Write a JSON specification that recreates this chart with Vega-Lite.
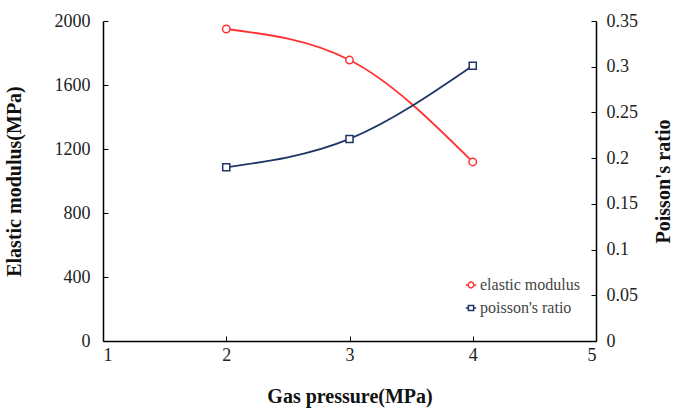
{
  "$schema": "https://vega.github.io/schema/vega-lite/v6.json",
  "width": 493,
  "height": 320,
  "autosize": {"type": "none"},
  "padding": {"left": 103, "top": 21, "right": 84, "bottom": 67},
  "background": "white",
  "config": {
    "view": {"stroke": null},
    "font": "Liberation Serif",
    "legend": {"labelFont": "Liberation Serif, Times New Roman, serif", "labelFontSize": 16, "labelColor": "#444"},
    "axis": {
      "grid": false,
      "domainColor": "#000",
      "domainWidth": 1.5,
      "tickColor": "#000",
      "tickSize": -5,
      "labelFont": "Liberation Serif",
      "labelFontSize": 18,
      "labelColor": "#222",
      "titleFont": "Liberation Serif, Times New Roman, serif",
      "titleFontSize": 20,
      "titleFontWeight": "bold",
      "titleColor": "#111"
    }
  },
  "datasets": {
    "em": [
      {"pressure": 2, "series": "elastic modulus", "value": 1950},
      {"pressure": 3, "series": "elastic modulus", "value": 1756},
      {"pressure": 4, "series": "elastic modulus", "value": 1119}
    ],
    "pr": [
      {"pressure": 2, "series": "poisson's ratio", "value": 0.19},
      {"pressure": 3, "series": "poisson's ratio", "value": 0.221},
      {"pressure": 4, "series": "poisson's ratio", "value": 0.301}
    ]
  },
  "layer": [
    {
      "data": {"name": "em"},
      "mark": {"type": "line", "interpolate": "monotone", "strokeWidth": 1.8, "point": {"filled": false, "fill": "white", "shape": "circle", "size": 55, "strokeWidth": 1.5}},
      "encoding": {
        "x": {"field": "pressure", "type": "quantitative", "scale": {"domain": [1, 5]}, "axis": {"title": "Gas pressure(MPa)", "format": "d", "values": [1, 2, 3, 4, 5], "labelPadding": 10, "titlePadding": 22}},
        "y": {"field": "value", "type": "quantitative", "scale": {"domain": [0, 2000]}, "axis": {"title": "Elastic modulus(MPa)", "format": "d", "values": [0, 400, 800, 1200, 1600, 2000], "labelPadding": 18, "titlePadding": 30}},
        "color": {"field": "series", "type": "nominal", "scale": {"domain": ["elastic modulus", "poisson's ratio"], "range": ["#ff3333", "#1f3566"]},
          "legend": {"title": null, "orient": "none", "legendX": 360, "legendY": 256, "labelFontSize": 16, "labelColor": "#444", "symbolStrokeWidth": 1.5, "symbolSize": 110, "rowPadding": 7, "labelOffset": 1,
            "encode": {
              "symbols": {"update": {"shape": {"signal": "datum.value === 'elastic modulus' ? 'M-1,0L-0.55,0M0.55,0L1,0M-0.55,0A0.55,0.55 0 1,1 0.55,0A0.55,0.55 0 1,1 -0.55,0' : 'M-1,0L-0.5,0M0.5,0L1,0M-0.5,-0.5L0.5,-0.5L0.5,0.5L-0.5,0.5Z'"}, "fill": {"value": "white"}}}
            }}}
      }
    },
    {
      "data": {"name": "pr"},
      "mark": {"type": "line", "interpolate": "monotone", "strokeWidth": 1.8, "point": {"filled": false, "fill": "white", "shape": "square", "size": 50, "strokeWidth": 1.5}},
      "encoding": {
        "x": {"field": "pressure", "type": "quantitative"},
        "y": {"field": "value", "type": "quantitative", "scale": {"domain": [0, 0.35]}, "axis": {"orient": "right", "title": "Poisson's ratio", "titleAngle": -90, "format": ".2~f", "values": [0, 0.05, 0.1, 0.15, 0.2, 0.25, 0.3, 0.35], "labelPadding": 15, "titlePadding": 36}},
        "color": {"field": "series", "type": "nominal"}
      }
    }
  ],
  "resolve": {"scale": {"y": "independent"}}
}
